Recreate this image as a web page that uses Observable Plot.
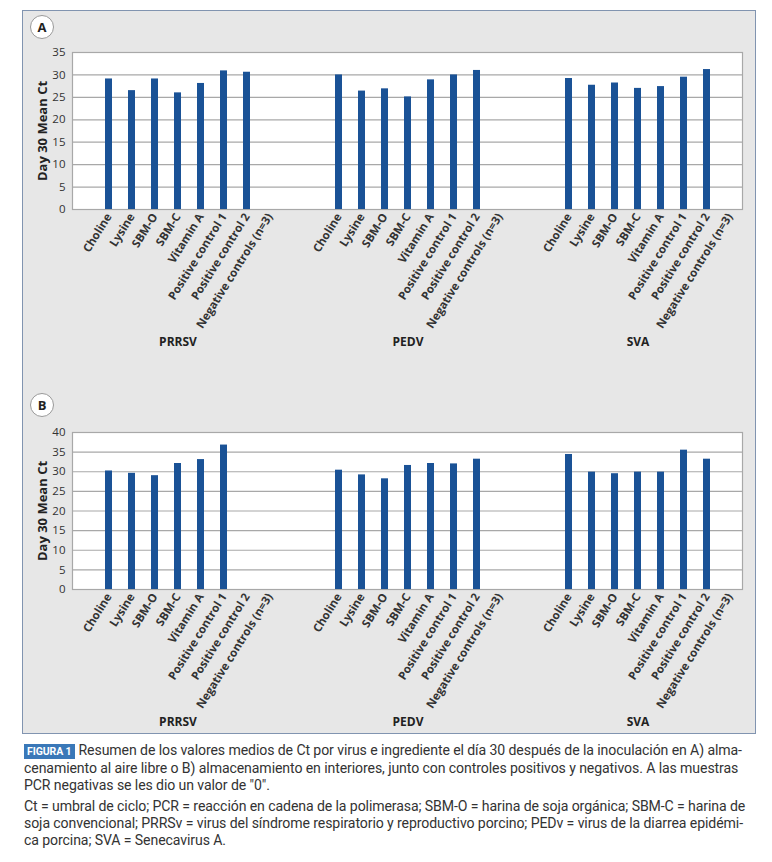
<!DOCTYPE html>
<html>
<head>
<meta charset="utf-8">
<script src="https://cdn.jsdelivr.net/npm/d3@7"></script>
<script src="https://cdn.jsdelivr.net/npm/@observablehq/plot@0.6"></script>
<style>
  html, body { margin: 0; padding: 0; background: #ffffff; }
  body { width: 772px; height: 862px; position: relative; font-family: "Open Sans", sans-serif; }
  #box { position: absolute; left: 22px; top: 10px; width: 732px; height: 722px; background: #e7e7e7; border: 1px solid #8194b0; }
  .chart { position: absolute; left: 22px; }
  .badge { position: absolute; width: 22px; height: 22px; border-radius: 50%; background: #fff; border: 1.5px solid #999; font: bold 13px "Open Sans", sans-serif; color: #222; text-align: center; line-height: 22px; }
  #caption { position: absolute; left: 24px; top: 742px; width: 745px; font-family: Roboto, sans-serif; font-size: 14.1px; line-height: 17px; color: #333; letter-spacing: -0.1px; }
  #caption p { margin: 0 0 4px 0; white-space: nowrap; }
  .fig { background: #3a78b8; color: #fff; font-weight: bold; font-size: 10.5px; padding: 1px 3px; margin-right: 4px; }
</style>
</head>
<body>
<div id="box"></div>
<div class="badge" style="left:30px; top:15px;">A</div>
<div class="badge" style="left:30px; top:393px;">B</div>
<div id="chartA" class="chart" style="top:10px;"></div>
<div id="chartB" class="chart" style="top:380px;"></div>
<div id="caption">
  <p><span class="fig">FIGURA 1</span>Resumen de los valores medios de Ct por virus e ingrediente el día 30 después de la inoculación en A) alma-<br>cenamiento al aire libre o B) almacenamiento en interiores, junto con controles positivos y negativos. A las muestras<br>PCR negativas se les dio un valor de "0".</p>
  <p>Ct = umbral de ciclo; PCR = reacción en cadena de la polimerasa; SBM-O = harina de soja orgánica; SBM-C = harina de<br>soja convencional; PRRSv = virus del síndrome respiratorio y reproductivo porcino; PEDv = virus de la diarrea epidémi-<br>ca porcina; SVA = Senecavirus A.</p>
</div>
<script>
const categories = ["Choline", "Lysine", "SBM-O", "SBM-C", "Vitamin A", "Positive control 1", "Positive control 2", "Negative controls (n=3)"];
const viruses = ["PRRSV", "PEDV", "SVA"];

// Panel A: outdoor storage
const prrsvA = [29.1, 26.5, 29.1, 26.0, 28.1, 30.9, 30.6, 0];
const pedvA  = [30.0, 26.4, 26.9, 25.1, 28.9, 30.0, 31.0, 0];
const svaA   = [29.2, 27.7, 28.2, 27.0, 27.4, 29.5, 31.2, 0];

// Panel B: indoor storage
const prrsvB = [30.2, 29.6, 29.0, 32.1, 33.1, 36.8, 0, 0];
const pedvB  = [30.4, 29.2, 28.2, 31.6, 32.1, 32.0, 33.2, 0];
const svaB   = [34.4, 29.9, 29.5, 29.9, 29.9, 35.5, 33.2, 0];

const ticksA = [0, 5, 10, 15, 20, 25, 30, 35];
const ticksB = [0, 5, 10, 15, 20, 25, 30, 35, 40];

// x domain: a blank slot, then each virus group separated by two blank slots
const domain = ["gap0"];
viruses.forEach((v, i) => {
  categories.forEach(c => domain.push(v + "|" + c));
  if (i < viruses.length - 1) { domain.push("gap" + (2 * i + 1), "gap" + (2 * i + 2)); }
});

function rows(series) {
  const out = [];
  viruses.forEach((v, i) => categories.forEach((c, j) => out.push({key: v + "|" + c, value: series[i][j]})));
  return out;
}

function chart(data, ticks, ymax, height, marginTop, marginBottom) {
  return Plot.plot({
    width: 734,
    height,
    marginLeft: 50,
    marginRight: 14,
    marginTop,
    marginBottom,
    style: {background: "transparent", fontFamily: "'Open Sans', sans-serif", fontSize: "11px", color: "#333"},
    x: {type: "band", domain, padding: 0, axis: null},
    y: {domain: [0, ymax], axis: null},
    marks: [
      Plot.frame({fill: "white", stroke: null}),
      Plot.gridY(ticks, {stroke: "#a8a8a8", strokeOpacity: 1, strokeWidth: 1.2}),
      Plot.frame({stroke: "#a8a8a8", strokeWidth: 1.2}),
      Plot.barY(data, {x: "key", y: "value", fill: "#1a5296", insetLeft: 8, insetRight: 8}),
      Plot.axisY({ticks, tickSize: 0, tickPadding: 7, fontSize: 11.5, label: null}),
      Plot.axisX({tickSize: 0, tickPadding: 5, tickRotate: -58, fontSize: 11.5, fontWeight: "bold", label: null,
        tickFormat: d => d.startsWith("gap") ? "" : d.split("|")[1]}),
      Plot.text(["Day 30 Mean Ct"], {frameAnchor: "left", textAnchor: "middle", rotate: -90, dx: -30, fontWeight: "bold", fontSize: 13, fill: "#222"}),
      Plot.text(viruses, {x: v => v + "|SBM-C", frameAnchor: "bottom", dy: 136, fontWeight: "bold", fontSize: 12, fill: "#222"})
    ]
  });
}

document.getElementById("chartA").append(chart(rows([prrsvA, pedvA, svaA]), ticksA, 35, 370, 42, 171));
document.getElementById("chartB").append(chart(rows([prrsvB, pedvB, svaB]), ticksB, 40, 355, 52, 146));
</script>
</body>
</html>
